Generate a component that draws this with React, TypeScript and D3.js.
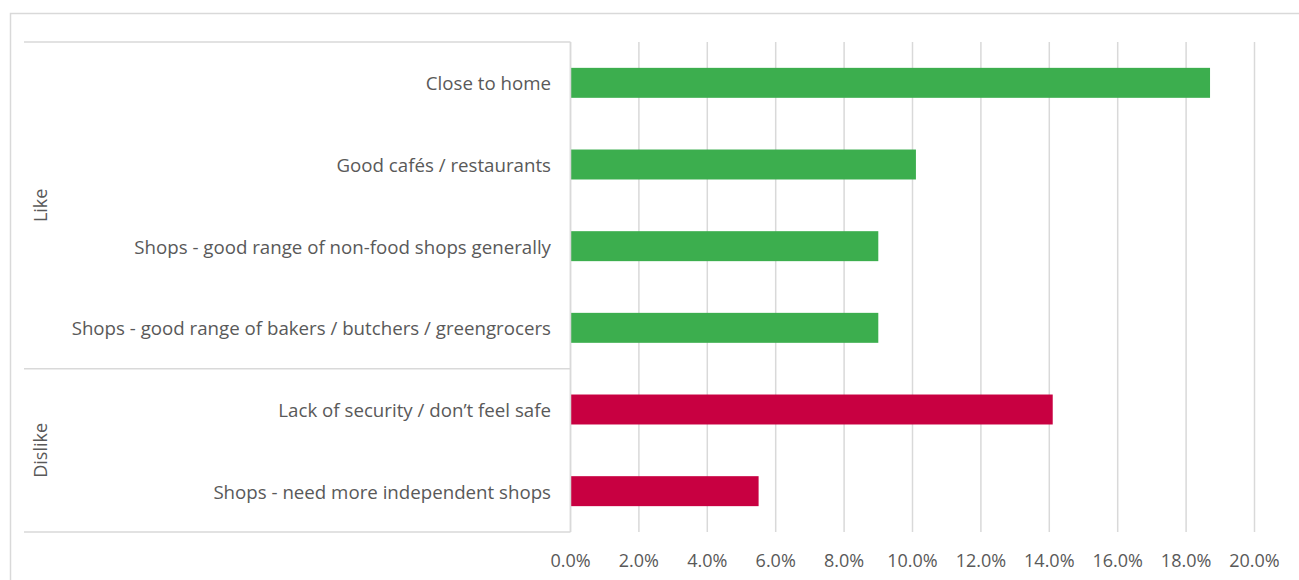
import React from "react";
import * as d3 from "d3";

const categories = [
  "Close to home",
  "Good cafés / restaurants",
  "Shops - good range of non-food shops generally",
  "Shops - good range of bakers / butchers / greengrocers",
  "Lack of security / don’t feel safe",
  "Shops - need more independent shops",
];
const groups = ["Like", "Like", "Like", "Like", "Dislike", "Dislike"];
const values = [0.187, 0.101, 0.09, 0.09, 0.141, 0.055];
const groupNames = ["Like", "Dislike"];
const xTicks = [0, 0.02, 0.04, 0.06, 0.08, 0.1, 0.12, 0.14, 0.16, 0.18, 0.2];

const colors: Record<string, string> = { Like: "#3CAE4E", Dislike: "#C80041" };

const W = 1299;
const H = 580;
const FONT = "'Open Sans', Lato, sans-serif";
const TEXT = "#595959";
const GRID = "#D9D9D9";

export default function App() {
  const x = d3.scaleLinear().domain([0, 0.2]).range([570.5, 1254.5]);
  const y = d3
    .scaleBand<string>()
    .domain(categories)
    .range([42, 532])
    .paddingInner(0.633)
    .paddingOuter(0.3165);
  const step = y.step();
  const top = 42;
  const bottom = 532;
  const groupRanges = groupNames.map((g) => {
    const idx = groups.map((gg, i) => (gg === g ? i : -1)).filter((i) => i >= 0);
    const y0 = top + idx[0] * step;
    const y1 = top + (idx[idx.length - 1] + 1) * step;
    return { g, y0, y1 };
  });
  const fmt = d3.format(".1%");

  return (
    <svg
      width={W}
      height={H}
      style={{ position: "absolute", left: 0, top: 0, background: "#fff" }}
      fontFamily={FONT}
    >
      <rect x={10.5} y={13.5} width={W + 20} height={H + 20} fill="#fff" stroke={GRID} strokeWidth={1.5} />
      {xTicks.map((t) => (
        <line key={"g" + t} x1={x(t)} x2={x(t)} y1={top} y2={bottom} stroke={GRID} strokeWidth={1.5} />
      ))}
      {categories.map((c, i) => (
        <rect
          key={c}
          x={x(0)}
          y={y(c)}
          width={x(values[i]) - x(0)}
          height={y.bandwidth()}
          fill={colors[groups[i]]}
        />
      ))}
      <line x1={x(0)} x2={x(0)} y1={top} y2={bottom} stroke={GRID} strokeWidth={1.5} />
      <line x1={24} x2={x(0)} y1={top} y2={top} stroke={GRID} strokeWidth={1.5} />
      {groupRanges.map((r) => (
        <line key={"s" + r.g} x1={24} x2={x(0)} y1={r.y1} y2={r.y1} stroke={GRID} strokeWidth={1.5} />
      ))}
      {categories.map((c) => (
        <text
          key={"l" + c}
          x={551}
          y={(y(c) as number) + y.bandwidth() / 2}
          textAnchor="end"
          dominantBaseline="central"
          fontSize={18.7}
          fill={TEXT}
        >
          {c}
        </text>
      ))}
      {groupRanges.map((r) => (
        <text
          key={"t" + r.g}
          transform={`translate(40,${(r.y0 + r.y1) / 2}) rotate(-90)`}
          textAnchor="middle"
          dominantBaseline="central"
          fontSize={18}
          fill={TEXT}
        >
          {r.g}
        </text>
      ))}
      {xTicks.map((t) => (
        <text
          key={"x" + t}
          x={x(t)}
          y={560}
          textAnchor="middle"
          dominantBaseline="central"
          fontSize={18}
          fill={TEXT}
        >
          {fmt(t)}
        </text>
      ))}
    </svg>
  );
}
